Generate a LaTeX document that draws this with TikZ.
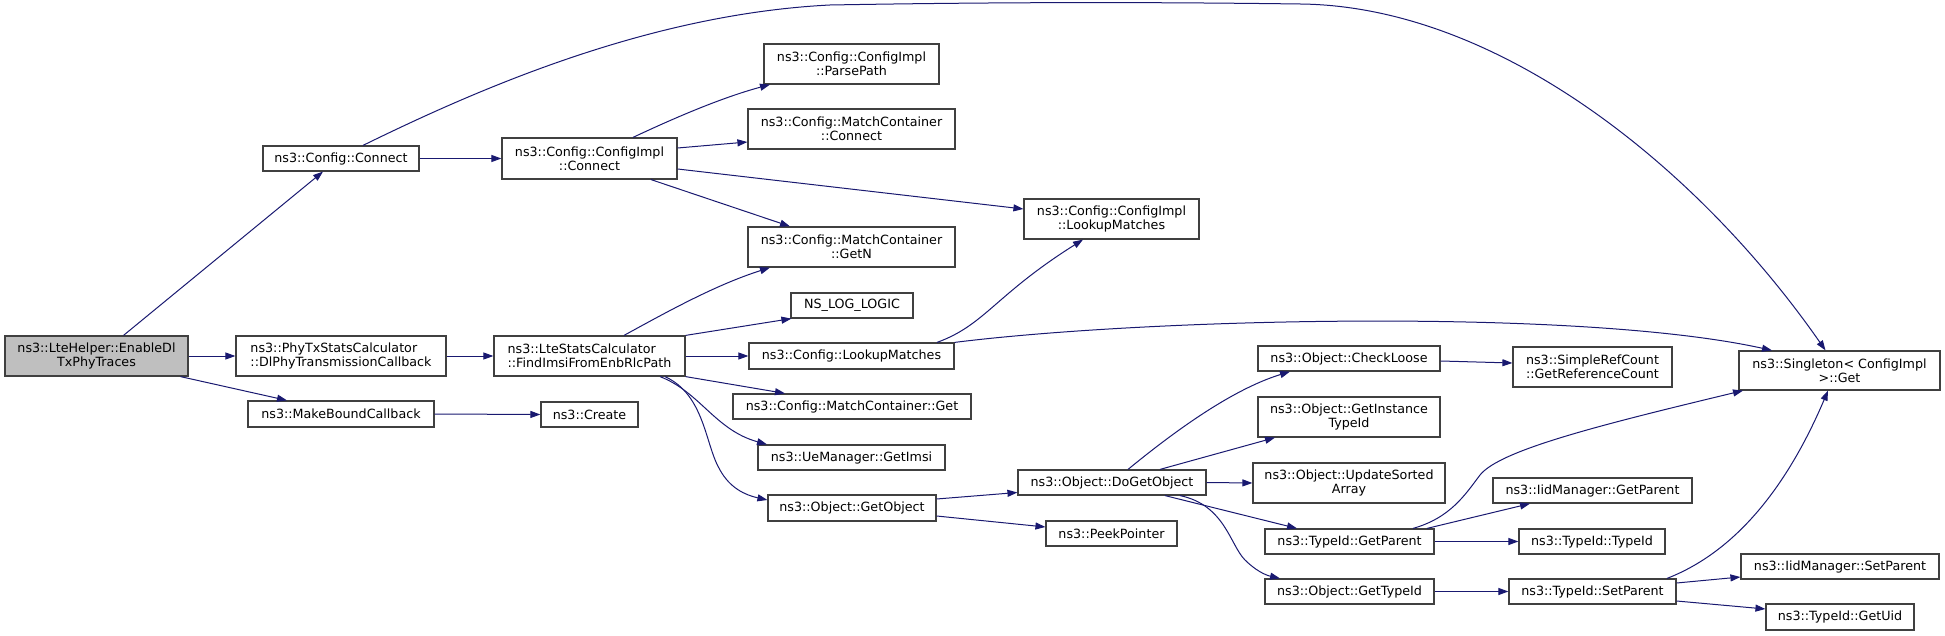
\documentclass[tikz,border=0pt]{standalone}
\usepackage{fontspec}
\setmainfont{DejaVu Sans}
\usetikzlibrary{arrows.meta}
\definecolor{edgec}{HTML}{191970}
\definecolor{boxc}{HTML}{404040}
\definecolor{rootfill}{HTML}{BFBFBF}
\begin{document}
\begin{tikzpicture}[x=1pt,y=-1pt,
  fn/.style={draw=boxc, line width=1.2pt, fill=white, inner sep=0pt, text=black,
    font=\fontsize{12.7}{14.3}\selectfont, align=center},
  lf/.style={fn, align=left},
  e/.style={draw=edgec, line width=1pt, -{Triangle[length=10pt,width=7pt]}}]
\useasboundingbox (0,0) rectangle (1945,636);
% nodes
\node[fn, fill=rootfill, minimum width=183pt, minimum height=40pt] (root) at (96.5,356) {ns3::LteHelper::EnableDl\\TxPhyTraces};
\node[lf, minimum width=210pt, minimum height=40pt] (phytx) at (341,356) {ns3::PhyTxStatsCalculator\\::DlPhyTransmissionCallback};
\node[fn, minimum width=186pt, minimum height=26pt] (mkb) at (341,414) {ns3::MakeBoundCallback};
\node[fn, minimum width=156pt, minimum height=25pt] (cconn) at (341,158.5) {ns3::Config::Connect};
\node[fn, minimum width=175pt, minimum height=41pt] (cic) at (589.5,158.5) {ns3::Config::ConfigImpl\\::Connect};
\node[lf, minimum width=191pt, minimum height=40pt] (lte) at (589.5,356) {ns3::LteStatsCalculator\\::FindImsiFromEnbRlcPath};
\node[fn, minimum width=97pt, minimum height=25pt] (create) at (589.5,414.5) {ns3::Create};
\node[fn, minimum width=175pt, minimum height=40pt] (parse) at (851.5,64) {ns3::Config::ConfigImpl\\::ParsePath};
\node[fn, minimum width=207pt, minimum height=40pt] (mcconn) at (851.5,129) {ns3::Config::MatchContainer\\::Connect};
\node[fn, minimum width=207pt, minimum height=40pt] (getn) at (851.5,247) {ns3::Config::MatchContainer\\::GetN};
\node[fn, minimum width=122pt, minimum height=25pt] (nslog) at (852,305.5) {NS\_LOG\_LOGIC};
\node[fn, minimum width=205pt, minimum height=26pt] (clm) at (851.5,356) {ns3::Config::LookupMatches};
\node[fn, minimum width=238pt, minimum height=25pt] (mcget) at (852,406.5) {ns3::Config::MatchContainer::Get};
\node[fn, minimum width=187pt, minimum height=25pt] (ueget) at (851.5,457.5) {ns3::UeManager::GetImsi};
\node[fn, minimum width=168pt, minimum height=26pt] (getobj) at (852,508) {ns3::Object::GetObject};
\node[fn, minimum width=175pt, minimum height=40pt] (cilm) at (1111.5,219) {ns3::Config::ConfigImpl\\::LookupMatches};
\node[fn, minimum width=188pt, minimum height=25pt] (dgo) at (1112,482.5) {ns3::Object::DoGetObject};
\node[fn, minimum width=131pt, minimum height=25pt] (peek) at (1111.5,533.5) {ns3::PeekPointer};
\node[fn, minimum width=182pt, minimum height=25pt] (check) at (1349,358.5) {ns3::Object::CheckLoose};
\node[fn, minimum width=182pt, minimum height=40pt] (git) at (1349,417) {ns3::Object::GetInstance\\TypeId};
\node[fn, minimum width=192pt, minimum height=40pt] (usa) at (1349,483) {ns3::Object::UpdateSorted\\Array};
\node[fn, minimum width=169pt, minimum height=25pt] (tgp) at (1349.5,541.5) {ns3::TypeId::GetParent};
\node[fn, minimum width=169pt, minimum height=25pt] (ogt) at (1349.5,591.5) {ns3::Object::GetTypeId};
\node[fn, minimum width=159pt, minimum height=40pt] (src) at (1592.5,367) {ns3::SimpleRefCount\\::GetReferenceCount};
\node[fn, minimum width=199pt, minimum height=25pt] (igp) at (1592.5,490.5) {ns3::IidManager::GetParent};
\node[fn, minimum width=146pt, minimum height=25pt] (tti) at (1592,541.5) {ns3::TypeId::TypeId};
\node[fn, minimum width=167pt, minimum height=25pt] (tsp) at (1592.5,591.5) {ns3::TypeId::SetParent};
\node[fn, minimum width=201pt, minimum height=39pt] (sing) at (1839.5,370.5) {ns3::Singleton< ConfigImpl\\>::Get};
\node[fn, minimum width=198pt, minimum height=25pt] (isp) at (1840,566.5) {ns3::IidManager::SetParent};
\node[fn, minimum width=148pt, minimum height=26pt] (uid) at (1840,617) {ns3::TypeId::GetUid};
% edges
\draw[e] ([xshift=27pt]root.north) -- ([xshift=-18pt]cconn.south);
\draw[e] (root.east) -- (phytx.west);
\draw[e] ([xshift=84pt]root.south) -- ([xshift=-54pt]mkb.north);
\draw[e] (phytx.east) -- (lte.west);
\draw[e] (cconn.east) -- (cic.west);
\draw[e] ([xshift=22pt]cconn.north) .. controls (480,88) and (650,14) .. (830,5)
  .. controls (1000,2) and (1150,2) .. (1300,4)
  .. controls (1500,6) and (1700,170) .. ([xshift=-14pt]sing.north);
\draw[e] ([xshift=43.5pt]cic.north) .. controls (670,120) and (720,98) .. ([xshift=-81.5pt]parse.south);
\draw[e] ([yshift=10.5pt]cic.east) -- ([yshift=-13pt]mcconn.west);
\draw[e] ([yshift=-10.5pt]cic.east) -- ([yshift=10pt]cilm.west);
\draw[e] ([xshift=61.5pt]cic.south) -- ([xshift=-61.5pt]getn.north);
\draw[e] ([xshift=34.5pt]lte.north) .. controls (665,313) and (715,285) .. ([xshift=-81.5pt]getn.south);
\draw[e] (lte.north east) -- ([xshift=1pt]nslog.south west);
\draw[e] (lte.east) -- (clm.west);
\draw[e] (lte.south east) -- ([xshift=-67pt]mcget.north);
\draw[e] ([xshift=70.5pt]lte.south) .. controls (700,392) and (715,430) .. ([xshift=-84.5pt]ueget.north);
\draw[e] ([xshift=75.5pt]lte.south) .. controls (705,395) and (705,445) .. (720,470)
  .. controls (730,488) and (745,495) .. ([yshift=8pt]getobj.west);
\draw[e] ([xshift=85.5pt]clm.north) .. controls (985,325) and (995,295) .. ([xshift=-28.5pt]cilm.south);
\draw[e] (clm.north east) .. controls (1150,318) and (1580,308) .. ([xshift=-67.5pt]sing.north);
\draw[e] (mkb.east) -- (create.west);
\draw[e] ([yshift=9pt]getobj.east) -- ([yshift=-10pt]dgo.west);
\draw[e] ([yshift=-8pt]getobj.east) -- ([yshift=6.5pt]peek.west);
\draw[e] ([xshift=16pt]dgo.north) .. controls (1170,435) and (1230,390) .. ([xshift=-59pt]check.south);
\draw[e] ([xshift=48pt]dgo.north) -- ([xshift=-74pt]git.south);
\draw[e] (dgo.east) -- (usa.west);
\draw[e] ([xshift=53pt]dgo.south) -- ([xshift=-52.5pt]tgp.north);
\draw[e] ([xshift=68pt]dgo.south) .. controls (1225,505) and (1230,545) .. (1245,560)
  .. controls (1255,570) and (1265,575) .. ([xshift=-69.5pt]ogt.north);
\draw[e] ([yshift=-2.5pt]check.east) -- ([yshift=4pt]src.west);
\draw[e] ([xshift=63.5pt]tgp.north) .. controls (1450,518) and (1465,495) .. (1480,475)
  .. controls (1500,450) and (1600,425) .. ([xshift=-96.5pt]sing.south);
\draw[e] ([xshift=77.5pt]tgp.north) -- ([xshift=-62.5pt]igp.south);
\draw[e] (tgp.east) -- (tti.west);
\draw[e] (ogt.east) -- (tsp.west);
\draw[e] ([xshift=74.5pt]tsp.north) .. controls (1740,550) and (1790,480) .. ([xshift=-11.5pt]sing.south);
\draw[e] ([yshift=8.5pt]tsp.east) -- ([yshift=-10.5pt]isp.west);
\draw[e] ([yshift=-9.5pt]tsp.east) -- ([yshift=8pt]uid.west);
\end{tikzpicture}
\end{document}
